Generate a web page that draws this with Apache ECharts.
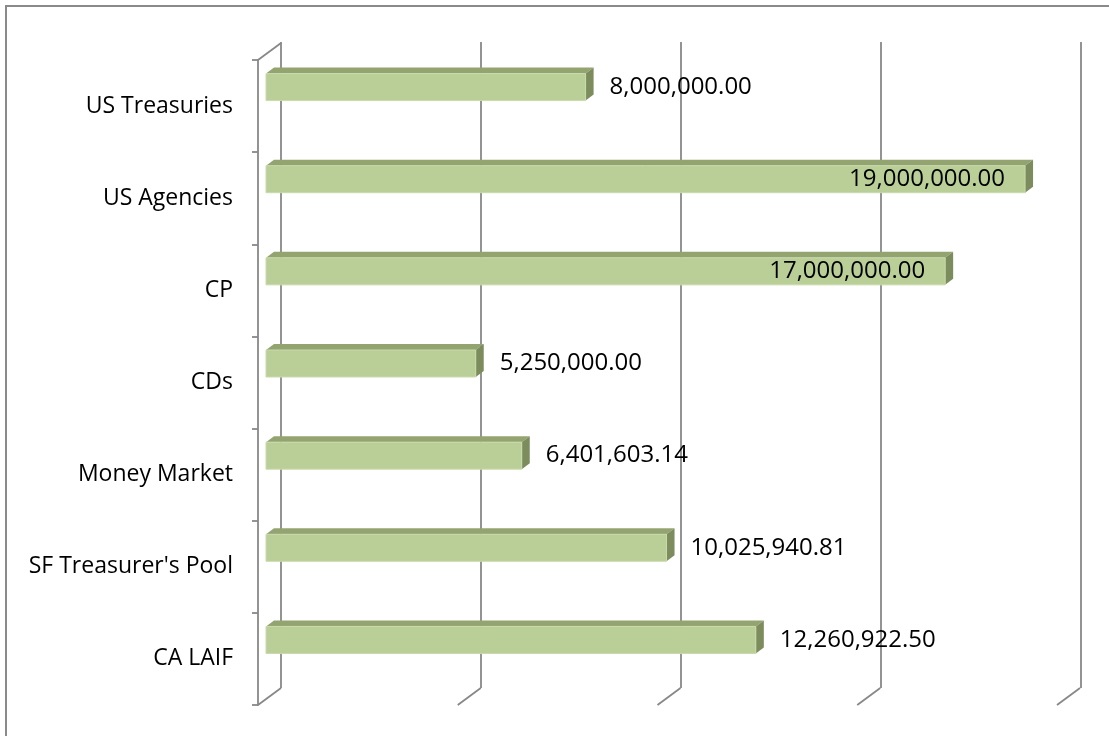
<!DOCTYPE html>
<html>
<head>
<meta charset="utf-8">
<script src="https://cdn.jsdelivr.net/npm/echarts@6/dist/echarts.min.js"></script>
<style>
  html, body { margin: 0; padding: 0; background: #fff; }
  #chart { width: 1109px; height: 736px; }
</style>
</head>
<body>
<div id="chart"></div>
<script>
// categories top to bottom
const categories = ['US Treasuries', 'US Agencies', 'CP', 'CDs', 'Money Market', "SF Treasurer's Pool", 'CA LAIF']
const holdings = [8000000, 19000000, 17000000, 5250000, 6401603.14, 10025940.81, 12260922.50]
// value axis gridlines (no labels shown)
const gridTicks = [0, 5000000, 10000000, 15000000, 20000000]

const chart = echarts.init(document.getElementById('chart'))

// 3d look
const frontColor = '#BACE97'
const topColor = '#93A471'
const sideColor = '#7C8C5D'
const lineColor = '#888888'
const wallDx = 23
const wallDy = 17
const barDx = 8
const barDy = 6
const barShift = 19
const barHalf = 13.5
const fontFamily = '"Open Sans", sans-serif'

function fmt(v) {
  return v.toLocaleString('en-US', { minimumFractionDigits: 2, maximumFractionDigits: 2 })
}

// floor diagonals + top corner of the left wall
function renderWall(params, api) {
  const v = api.value(0)
  const band = api.size([0, 1])[1]
  const bottom = api.coord([v, categories.length - 1])
  const yb = bottom[1] + band / 2
  const children = [{
    type: 'line',
    shape: { x1: bottom[0], y1: yb, x2: bottom[0] + wallDx, y2: yb - wallDy },
    style: { stroke: lineColor, lineWidth: 1.8 }
  }]
  if (params.dataIndex === 0) {
    const top = api.coord([v, 0])
    const yt = top[1] - band / 2
    children.push({
      type: 'line',
      shape: { x1: top[0], y1: yt, x2: top[0] + wallDx, y2: yt - wallDy },
      style: { stroke: lineColor, lineWidth: 1.8 }
    })
  }
  return { type: 'group', children: children }
}

function renderBar(params, api) {
  const v = api.value(0)
  const i = api.value(1)
  const s = api.coord([0, i])
  const e = api.coord([v, i])
  const x0 = s[0] + barDx
  const x1 = e[0] + barDx
  const yc = s[1] - barShift
  const yt = yc - barHalf
  const yb = yc + barHalf
  const limit = api.coord([gridTicks[gridTicks.length - 1], i])[0]
  const label = fmt(v)
  const outside = x1 + barDx + 16 + 160 < limit
  return {
    type: 'group',
    children: [
      {
        type: 'polygon',
        shape: { points: [[x0, yt], [x0 + barDx, yt - barDy], [x1 + barDx, yt - barDy], [x1, yt]] },
        style: { fill: topColor }
      },
      {
        type: 'polygon',
        shape: { points: [[x1, yt], [x1 + barDx, yt - barDy], [x1 + barDx, yb - barDy], [x1, yb]] },
        style: { fill: sideColor }
      },
      {
        type: 'rect',
        shape: { x: x0, y: yt, width: x1 - x0, height: yb - yt },
        style: { fill: frontColor, stroke: '#C9DAAC', lineWidth: 1 }
      },
      {
        type: 'text',
        x: outside ? x1 + barDx + 16 : x1 - 20,
        y: yc,
        style: {
          text: label,
          fill: '#000',
          font: '24px ' + fontFamily,
          align: outside ? 'left' : 'right',
          verticalAlign: 'middle'
        }
      }
    ]
  }
}

chart.setOption({
  animation: false,
  backgroundColor: '#fff',
  graphic: [{
    type: 'rect',
    shape: { x: 6, y: 6, width: 1300, height: 1000 },
    style: { fill: 'none', stroke: '#8A8A8A', lineWidth: 2 },
    silent: true
  }],
  grid: [
    // back wall
    { left: 281, right: 28, top: 42, bottom: 48 },
    // front plane
    { left: 258, right: 52, top: 60, bottom: 31 }
  ],
  xAxis: [
    {
      gridIndex: 0,
      type: 'value',
      min: 0,
      max: 20000000,
      interval: 5000000,
      axisLine: { show: false },
      axisTick: { show: false },
      axisLabel: { show: false },
      splitLine: { show: true, lineStyle: { color: lineColor, width: 1.8 } }
    },
    {
      gridIndex: 1,
      type: 'value',
      min: 0,
      max: 20000000,
      interval: 5000000,
      axisLine: { show: false },
      axisTick: { show: false },
      axisLabel: { show: false },
      splitLine: { show: false }
    }
  ],
  yAxis: [
    {
      gridIndex: 0,
      type: 'category',
      data: categories,
      inverse: true,
      show: false
    },
    {
      gridIndex: 1,
      type: 'category',
      data: categories,
      inverse: true,
      axisLine: { show: true, lineStyle: { color: lineColor, width: 1.8 } },
      axisTick: { show: true, length: 6, lineStyle: { color: lineColor, width: 1.8 } },
      axisLabel: {
        margin: 25,
        color: '#000',
        fontSize: 23,
        fontFamily: fontFamily
      },
      splitLine: { show: false }
    }
  ],
  series: [
    {
      type: 'custom',
      xAxisIndex: 1,
      yAxisIndex: 1,
      data: gridTicks.map(v => [v]),
      encode: { x: 0 },
      renderItem: renderWall,
      silent: true
    },
    {
      type: 'custom',
      xAxisIndex: 1,
      yAxisIndex: 1,
      data: holdings.map((v, i) => [v, i]),
      encode: { x: 0, y: 1 },
      renderItem: renderBar
    }
  ]
})
</script>
</body>
</html>
